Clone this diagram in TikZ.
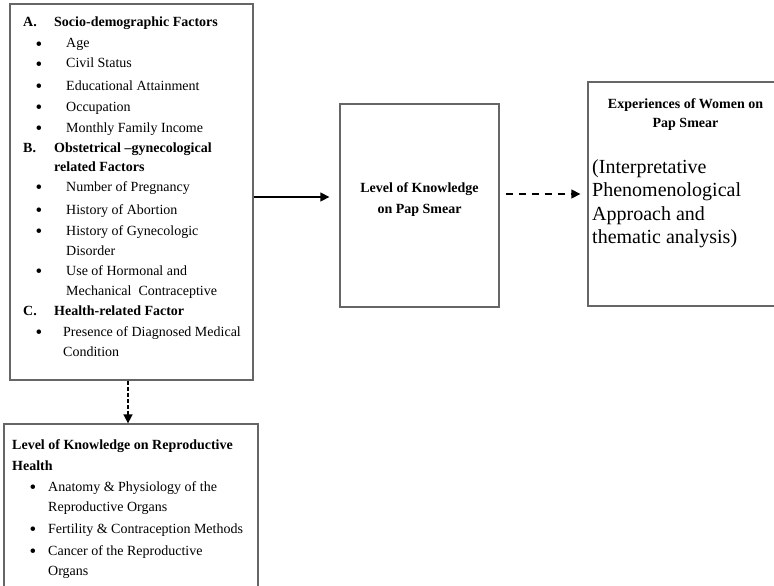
\documentclass[tikz,border=0pt]{standalone}
\usepackage{fontspec}
\setmainfont{Liberation Serif}
\usetikzlibrary{arrows.meta}
\newcommand{\listdot}[1]{\llap{\raisebox{-2.2pt}{\fontsize{19}{20}\selectfont\textbullet}\hspace{#1}}}
\tikzset{
  factbox/.style={draw=black!60, line width=1.3pt, inner sep=0pt},
  boxlab/.style={font=\fontsize{14}{20}\selectfont\bfseries, inner sep=0pt},
  boxtxt/.style={font=\fontsize{14}{20}\selectfont, inner sep=0pt},
  bigtxt/.style={font=\fontsize{20}{23}\selectfont, inner sep=0pt},
  flowarrow/.style={-{Triangle[length=9pt,width=9pt]}, line width=1.3pt, draw=black},
  flowdash/.style={flowarrow, dash pattern=on 7pt off 6pt},
  dropdash/.style={flowarrow, line width=1.6pt, dash pattern=on 4pt off 2pt},
}

\begin{document}
\begin{tikzpicture}[x=1pt, y=-1pt]
    \useasboundingbox (0,0) rectangle (774,586);
    % boxes
    \node[factbox, minimum width=243pt, minimum height=376pt] (fact) at (131.5,192) {};
    \node[factbox, minimum width=159pt, minimum height=203pt] (know) at (419.5,205.5) {};
    \node[factbox, minimum width=203pt, minimum height=224pt] (exper) at (689.5,194) {};
    \node[factbox, minimum width=254pt, minimum height=176pt] (repro) at (131,512) {};
    % factors
    \node[boxlab, anchor=base west] (fa) at (23,27) {A.};
    \node[boxlab, anchor=base west] (fatit) at (54,27) {Socio-demographic Factors};
    \node[boxtxt, anchor=base west] (fage) at (66,48) {\listdot{24pt}Age};
    \node[boxtxt, anchor=base west] (fcivil) at (66,68) {\listdot{24pt}Civil Status};
    \node[boxtxt, anchor=base west] (fedu) at (66,90) {\listdot{24pt}Educational Attainment};
    \node[boxtxt, anchor=base west] (focc) at (66,111) {\listdot{24pt}Occupation};
    \node[boxtxt, anchor=base west] (finc) at (66,132) {\listdot{24pt}Monthly Family Income};
    \node[boxlab, anchor=base west] (fb) at (23,152) {B.};
    \node[boxlab, anchor=base west] (fbtit) at (54,152) {Obstetrical –gynecological};
    \node[boxlab, anchor=base west] (fbtit2) at (54,171) {related Factors};
    \node[boxtxt, anchor=base west] (fpreg) at (66,191) {\listdot{24pt}Number of Pregnancy};
    \node[boxtxt, anchor=base west] (fabort) at (66,214) {\listdot{24pt}History of Abortion};
    \node[boxtxt, anchor=base west] (fgyn) at (66,235) {\listdot{24pt}History of Gynecologic};
    \node[boxtxt, anchor=base west] (fgyn2) at (66,255) {Disorder};
    \node[boxtxt, anchor=base west] (fhorm) at (66,275) {\listdot{24pt}Use of Hormonal and};
    \node[boxtxt, anchor=base west] (fhorm2) at (66,295) {Mechanical\ \ Contraceptive};
    \node[boxlab, anchor=base west] (fc) at (23,315) {C.};
    \node[boxlab, anchor=base west] (fctit) at (54,315) {Health-related Factor};
    \node[boxtxt, anchor=base west] (fmed) at (63,336) {\listdot{21pt}Presence of Diagnosed Medical};
    \node[boxtxt, anchor=base west] (fmed2) at (63,356) {Condition};
    % pap smear
    \node[boxlab, anchor=base] (knowtit) at (419.5,192) {Level of Knowledge};
    \node[boxlab, anchor=base] (knowtit2) at (419.5,213) {on Pap Smear};
    % experiences
    \node[boxlab, anchor=base] (expertit) at (685.5,108) {Experiences of Women on};
    \node[boxlab, anchor=base] (expertit2) at (685.5,128) {Pap Smear};
    \node[bigtxt, anchor=base west] (ipa1) at (592,173) {(Interpretative};
    \node[bigtxt, anchor=base west] (ipa2) at (592,196.5) {Phenomenological};
    \node[bigtxt, anchor=base west] (ipa3) at (592,220) {Approach and};
    \node[bigtxt, anchor=base west] (ipa4) at (592,243) {thematic analysis)};
    % reproductive health
    \node[boxlab, anchor=base west] (reprotit) at (12,449) {Level of Knowledge on Reproductive};
    \node[boxlab, anchor=base west] (reprotit2) at (12,470) {Health};
    \node[boxtxt, anchor=base west] (ranat) at (48,491) {\listdot{12pt}Anatomy \& Physiology of the};
    \node[boxtxt, anchor=base west] (ranat2) at (48,511) {Reproductive Organs};
    \node[boxtxt, anchor=base west] (rfert) at (48,533) {\listdot{12pt}Fertility \& Contraception Methods};
    \node[boxtxt, anchor=base west] (rcanc) at (48,555) {\listdot{12pt}Cancer of the Reproductive};
    \node[boxtxt, anchor=base west] (rcanc2) at (48,575) {Organs};
    % arrows
    \coordinate (solidend) at ([yshift=8.5pt, xshift=-10pt]know.west);
    \coordinate (dashstart) at ([yshift=11.5pt, xshift=6pt]know.east);
    \coordinate (dashend) at ([xshift=-7pt]exper.west |- dashstart);
    \draw[flowarrow] (fact.east |- solidend) -- (solidend);
    \draw[flowdash] (dashstart) -- (dashend);
    \draw[dropdash] ([xshift=-3.5pt]fact.south) -- ([xshift=-3.5pt]fact.south |- repro.north);
\end{tikzpicture}
\end{document}
